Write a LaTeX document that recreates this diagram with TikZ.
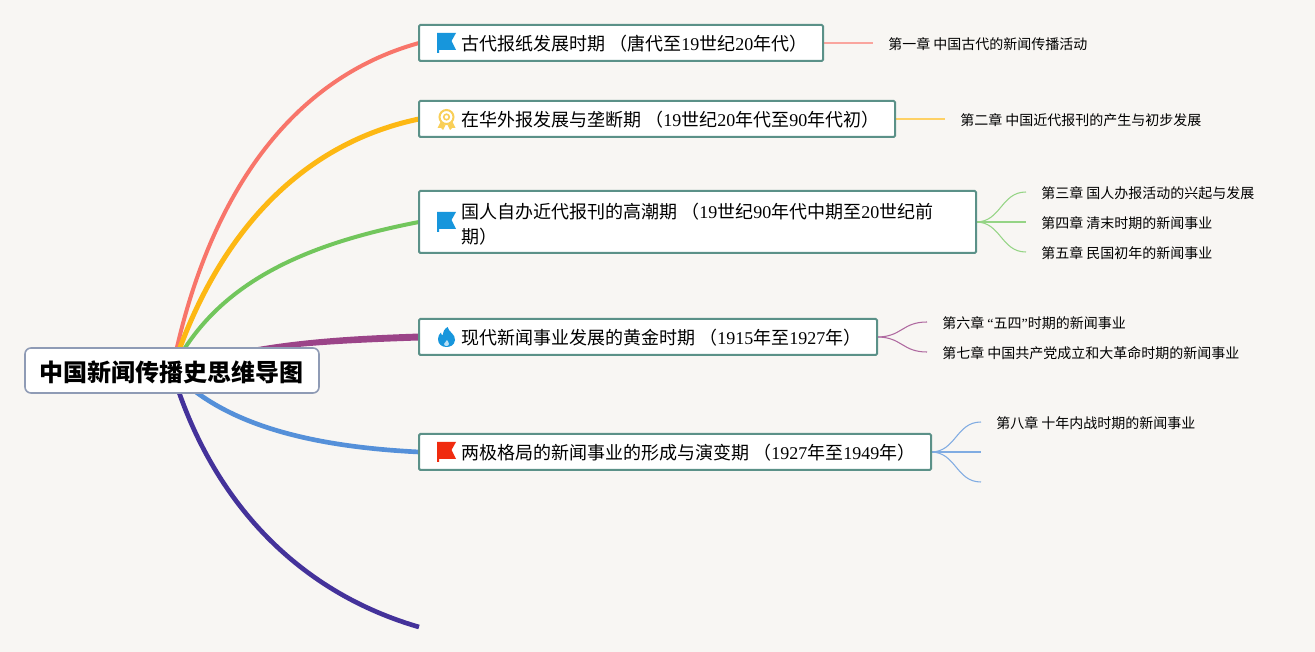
\documentclass[tikz,border=0pt]{standalone}
\usepackage{fontspec}
\usetikzlibrary{backgrounds}
\setmainfont{Liberation Serif}
\newfontfamily\zh{Noto Sans CJK SC}
\definecolor{bgc}{HTML}{F8F6F3}
\definecolor{boxc}{HTML}{5B9188}
\definecolor{rootc}{HTML}{8F9BB5}
\definecolor{cred}{HTML}{F8756A}
\definecolor{cyel}{HTML}{FDB813}
\definecolor{cgre}{HTML}{72C65C}
\definecolor{cmag}{HTML}{9B4488}
\definecolor{cblu}{HTML}{5590D9}
\definecolor{cdrk}{HTML}{44329A}
\definecolor{fblue}{HTML}{1796DC}
\definecolor{fred}{HTML}{F02B0F}
\definecolor{gold}{HTML}{F9CF58}
\tikzset{
  x=0.75pt,y=-0.75pt,
  rootbox/.style={draw=rootc,line width=1.2pt,outer sep=0pt,fill=white,rounded corners=4.5pt,inner sep=0pt,minimum width=220.5pt,minimum height=33.75pt,text height=17pt,text depth=0pt,font=\zh\bfseries\fontsize{18pt}{22pt}\selectfont,anchor=north west},
  topicbox/.style={draw=boxc,line width=1.5pt,outer sep=0pt,fill=white,rounded corners=1pt,inner sep=0pt,anchor=north west},
  topictext/.style={inner sep=0pt,anchor=west,align=left,font=\fontsize{13.5pt}{18.75pt}\selectfont},
  chap/.style={inner xsep=11.25pt,inner ysep=0pt,text height=10pt,text depth=0.6pt,anchor=west,font=\fontsize{10.5pt}{13pt}\selectfont},
  mainline/.style={line width=3pt},
  subline/.style={line width=0.8pt},
  pics/flagicon/.style={code={
    \fill[#1] (0,0) -- (19,0) -- (14.5,8) -- (19,17) -- (2,17) -- (2,20) -- (0,20) -- cycle;
  }},
  pics/sealicon/.style={code={
    \draw[gold,line width=1.5pt] (0,-2) circle[radius=7];
    \draw[gold,line width=1.2pt] (0,-2) circle[radius=2.8];
    \fill[gold] (-6,3) -- (-9,9) -- (-5.5,9) -- (-3.5,11) -- (-1,6) -- cycle;
    \fill[gold] (6,3) -- (9,9) -- (5.5,9) -- (3.5,11) -- (1,6) -- cycle;
  }},
  pics/flameicon/.style={code={
    \fill[fblue] (1,-10) .. controls (2,-5) and (9,-3) .. (8.5,3) .. controls (8,8) and (4,10) .. (0,10)
      .. controls (-5,10) and (-8.5,7) .. (-8.5,2) .. controls (-8.5,-1) and (-7,-3) .. (-5.5,-4.5)
      .. controls (-5.5,-3) and (-5,-2) .. (-4,-1.5) .. controls (-4,-5) and (-2,-8) .. (1,-10) -- cycle;
    \fill[white!70!fblue] (0.5,3) .. controls (1,4.5) and (2.5,5) .. (2.5,7) .. controls (2.5,8.5) and (1,9) .. (0,9)
      .. controls (-1,9) and (-2.5,8.5) .. (-2.5,7) .. controls (-2.5,5.5) and (0,5) .. (0.5,3) -- cycle;
  }}
}
\begin{document}
\begin{tikzpicture}
\useasboundingbox (0,0) rectangle (1315,652);
% root
\node[rootbox] (root) at (25,348) {中国新闻传播史思维导图};
% topics
\node[topicbox,minimum width=303pt,minimum height=27pt] (t1) at (419,25) {};
\node[topicbox,minimum width=357pt,minimum height=27pt] (t2) at (419,101) {};
\node[topicbox,minimum width=417.75pt,minimum height=46.5pt] (t3) at (419,191) {};
\node[topicbox,minimum width=343.5pt,minimum height=27pt] (t4) at (419,319) {};
\node[topicbox,minimum width=384pt,minimum height=27pt] (t5) at (419,434) {};
\node[topictext] (l1) at (461,44) {{\zh 古代报纸发展时期 （唐代至}19{\zh 世纪}20{\zh 年代）}};
\node[topictext] (l2) at (461,120) {{\zh 在华外报发展与垄断期 （}19{\zh 世纪}20{\zh 年代至}90{\zh 年代初）}};
\node[topictext] (l3) at (461,224) {{\zh 国人自办近代报刊的高潮期 （}19{\zh 世纪}90{\zh 年代中期至}20{\zh 世纪前}\\{\zh 期）}};
\node[topictext] (l4) at (461,338) {{\zh 现代新闻事业发展的黄金时期 （}1915{\zh 年至}1927{\zh 年）}};
\node[topictext] (l5) at (461,453) {{\zh 两极格局的新闻事业的形成与演变期 （}1927{\zh 年至}1949{\zh 年）}};
% icons
\pic at (437,33) {flagicon=fblue};
\pic at (446.5,119) {sealicon};
\pic at (437,212) {flagicon=fblue};
\pic at (446.5,337) {flameicon};
\pic at (437,442) {flagicon=fred};
% chapters
\node[chap] (c1) at (873,43) {\zh 第一章 中国古代的新闻传播活动};
\node[chap] (c2) at (945,119) {\zh 第二章 中国近代报刊的产生与初步发展};
\node[chap] (c3) at (1026,192) {\zh 第三章 国人办报活动的兴起与发展};
\node[chap] (c4) at (1026,222) {\zh 第四章 清末时期的新闻事业};
\node[chap] (c5) at (1026,252) {\zh 第五章 民国初年的新闻事业};
\node[chap] (c6) at (927,322) {{\zh 第六章 }“{\zh 五四}”{\zh 时期的新闻事业}};
\node[chap] (c7) at (927,352) {\zh 第七章 中国共产党成立和大革命时期的新闻事业};
\node[chap] (c8) at (981,422) {\zh 第八章 十年内战时期的新闻事业};
\coordinate (e1) at (981,452);
\coordinate (e2) at (981,482);
\coordinate (e3) at (419,627);
\begin{scope}[on background layer]
\fill[bgc] (0,0) rectangle (1315,652);
\draw[mainline,cred] (root.center) .. controls (205,205) and (285,80) .. (t1.west);
\draw[mainline,cyel,line width=3.75pt] (root.center) .. controls (212,248) and (290,146) .. (t2.west);
\draw[mainline,cgre] (root.center) .. controls (215,285) and (300,245) .. (t3.west);
\fill[cmag] (root.center) .. controls (240,342.5) and (330,336.5) .. ([yshift=2.6pt]t4.west)
  -- ([yshift=-2.6pt]t4.west) .. controls (330,343.5) and (240,347.5) .. (root.center) -- cycle;
\draw[mainline,cblu,line width=3.5pt] (root.center) .. controls (225,428) and (320,447) .. (t5.west);
\draw[mainline,cdrk,line width=3.5pt] (root.center) .. controls (206,486) and (285,588) .. (e3);
\draw[subline,cred!65] (t1.east) -- (c1.west);
\draw[subline,cyel!65] (t2.east) -- (c2.west);
\draw[subline,cgre!75] (t3.east) .. controls (1001,222) and (1001,192) .. (c3.west);
\draw[subline,cgre!75] (t3.east) -- (c4.west);
\draw[subline,cgre!75] (t3.east) .. controls (1001,222) and (1001,252) .. (c5.west);
\draw[subline,cmag!80] (t4.east) .. controls (902,337) and (902,322) .. (c6.west);
\draw[subline,cmag!80] (t4.east) .. controls (902,337) and (902,352) .. (c7.west);
\draw[subline,cblu!75] (t5.east) .. controls (956,452) and (956,422) .. (c8.west);
\draw[subline,cblu!75] (t5.east) -- (e1);
\draw[subline,cblu!75] (t5.east) .. controls (956,452) and (956,482) .. (e2);
\end{scope}
\end{tikzpicture}
\end{document}
